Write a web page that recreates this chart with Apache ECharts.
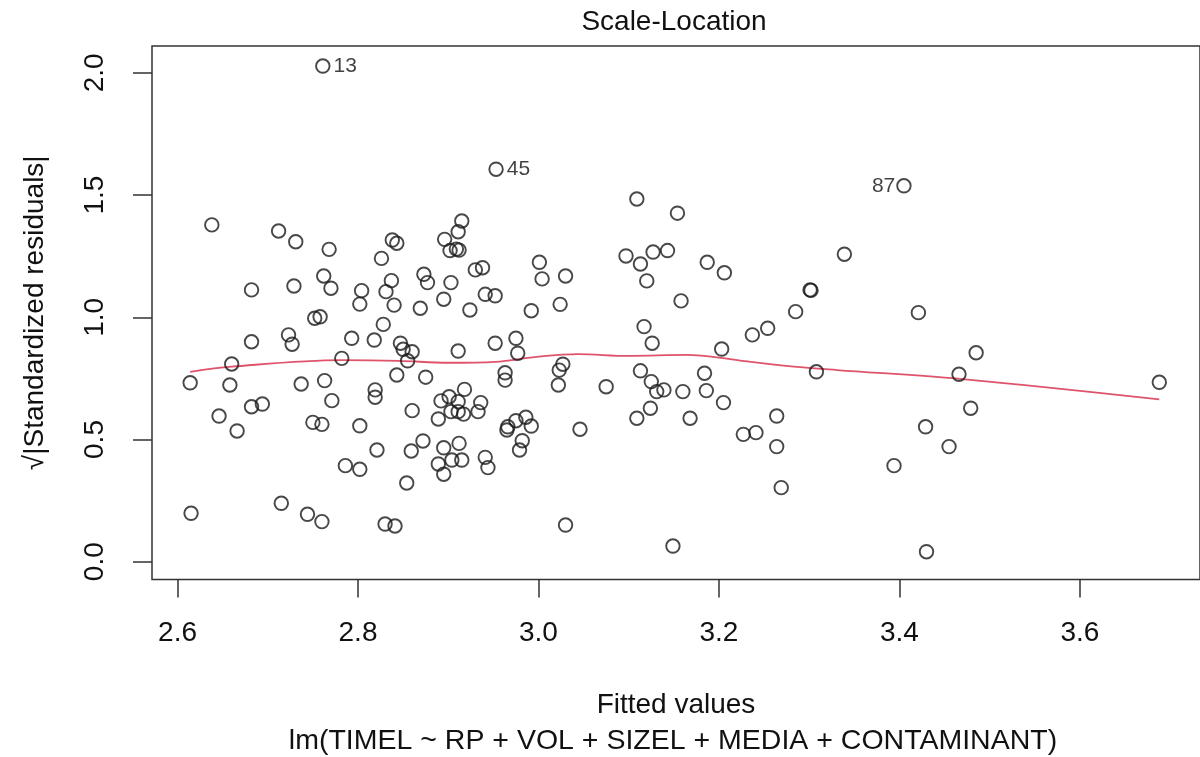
<!DOCTYPE html>
<html>
<head>
<meta charset="utf-8">
<script src="https://cdn.jsdelivr.net/npm/echarts@6/dist/echarts.min.js"></script>
<style>
html,body{margin:0;padding:0;background:#fff;}
#chart{width:1200px;height:757px;}
</style>
</head>
<body>
<div id="chart"></div>
<script>
const fitted = [2.761,2.953,3.405,2.638,2.712,2.731,2.768,2.838,2.843,2.826,2.915,2.911,2.896,2.902,2.909,2.912,2.930,2.938,2.682,2.729,
2.762,2.770,2.804,2.802,2.837,2.831,2.840,2.873,2.877,2.903,2.895,2.869,2.924,2.941,2.952,2.752,2.758,2.828,2.682,2.723,
2.727,2.793,2.818,2.847,2.850,2.860,2.855,2.952,2.911,2.660,2.782,2.614,2.658,2.737,2.763,2.843,2.875,2.963,2.963,2.646,
2.666,2.682,2.694,2.771,2.819,2.819,2.750,2.760,2.802,2.860,2.892,2.901,2.918,2.911,2.903,2.911,2.917,2.889,2.936,2.933,
2.821,2.859,2.872,2.895,2.912,2.889,2.895,2.904,2.915,2.786,2.802,2.854,2.941,2.944,2.615,2.715,2.744,2.760,2.830,2.841,
3.109,3.154,3.097,3.113,3.127,3.143,3.187,3.206,3.120,3.158,3.001,3.004,3.030,2.992,3.024,3.285,3.301,3.302,3.339,3.117,
3.126,3.237,3.254,3.203,2.975,2.977,3.027,3.023,3.022,3.075,3.113,3.125,3.131,3.139,3.160,3.184,3.186,3.205,3.308,2.966,
2.965,2.975,2.986,2.992,2.982,2.979,3.046,3.109,3.124,3.168,3.227,3.241,3.264,3.264,3.269,3.030,3.149,3.421,3.485,3.466,
3.688,3.479,3.429,3.455,3.394,3.430];
const sqrtStdRes = [2.028,1.606,1.538,1.378,1.353,1.309,1.278,1.316,1.303,1.241,1.394,1.350,1.319,1.273,1.279,1.275,1.194,1.203,1.112,1.128,
1.169,1.119,1.109,1.054,1.150,1.105,1.050,1.176,1.142,1.142,1.074,1.037,1.030,1.094,1.088,0.996,1.002,0.971,0.900,0.928,
0.890,0.914,0.907,0.894,0.869,0.859,0.822,0.894,0.862,0.809,0.832,0.732,0.723,0.727,0.741,0.764,0.755,0.773,0.743,0.596,
0.535,0.634,0.645,0.659,0.703,0.673,0.570,0.562,0.556,0.618,0.658,0.675,0.705,0.655,0.614,0.614,0.604,0.584,0.651,0.614,
0.457,0.453,0.494,0.466,0.484,0.400,0.358,0.416,0.416,0.393,0.378,0.322,0.427,0.385,0.198,0.239,0.194,0.164,0.154,0.146,
1.484,1.426,1.251,1.218,1.267,1.273,1.225,1.182,1.149,1.067,1.225,1.157,1.169,1.027,1.053,1.023,1.112,1.110,1.258,0.962,
0.894,0.928,0.955,0.870,0.914,0.853,0.808,0.784,0.723,0.716,0.781,0.737,0.696,0.703,0.696,0.771,0.700,0.651,0.777,0.552,
0.539,0.577,0.591,0.555,0.495,0.457,0.542,0.587,0.628,0.587,0.521,0.528,0.596,0.471,0.303,0.150,0.064,1.019,0.855,0.767,
0.734,0.628,0.552,0.471,0.393,0.041];
const idIndex = [0, 1, 2];
const idText = ['13', '45', '87'];
const loessX = [2.614,2.660,2.782,2.845,2.900,2.952,3.000,3.044,3.099,3.165,3.198,3.235,3.283,3.331,3.467,3.688];
const loessY = [0.777,0.798,0.825,0.822,0.814,0.818,0.839,0.849,0.842,0.846,0.836,0.818,0.798,0.784,0.748,0.664];
const xTicks = [2.6, 2.8, 3.0, 3.2, 3.4, 3.6];
const yTicks = [0.0, 0.5, 1.0, 1.5, 2.0];

const FONT = '"Liberation Sans", Arial, Helvetica, sans-serif';
const INK = '#111';
const idSide = ['right', 'right', 'left'];

const pts = fitted.map((x, i) => {
  const k = idIndex.indexOf(i);
  const item = { value: [x, sqrtStdRes[i]] };
  if (k >= 0) {
    item.label = {
      show: true, formatter: idText[k], position: idSide[k], distance: idSide[k] === 'left' ? 1 : 3,
      fontSize: 21, color: INK, fontFamily: FONT
    };
  }
  return item;
});

const chart = echarts.init(document.getElementById('chart'), null, { renderer: 'canvas' });
chart.setOption({
  animation: false,
  backgroundColor: '#fff',
  title: [
    { text: 'Scale-Location', left: 674, textAlign: 'center', top: 8, padding: 0,
      textStyle: { fontSize: 28, fontWeight: 'normal', color: INK, fontFamily: FONT } },
    { text: 'lm(TIMEL ~ RP + VOL + SIZEL + MEDIA + CONTAMINANT)', left: 673, textAlign: 'center', top: 727, padding: 0,
      textStyle: { fontSize: 28.5, fontWeight: 'normal', color: INK, fontFamily: FONT } }
  ],
  grid: { left: 152, top: 46, width: 1053, height: 533.5, show: true, borderColor: '#333', borderWidth: 1.5, backgroundColor: 'transparent' },
  xAxis: {
    type: 'value', min: 2.5717, max: 3.7331,
    name: 'Fitted values', nameLocation: 'middle', nameGap: 112,
    nameTextStyle: { fontSize: 28, color: INK, fontFamily: FONT },
    axisLine: { show: false, onZero: false },
    splitLine: { show: false },
    axisTick: { show: true, inside: false, length: 18, customValues: xTicks, lineStyle: { color: '#333', width: 1.5 } },
    axisLabel: { customValues: xTicks, margin: 40, fontSize: 28, color: INK, fontFamily: FONT,
      formatter: v => v.toFixed(1) }
  },
  yAxis: {
    type: 'value', min: -0.0728, max: 2.110,
    name: '√|Standardized residuals|', nameLocation: 'middle', nameGap: 103,
    nameTextStyle: { fontSize: 28, color: INK, fontFamily: FONT },
    axisLine: { show: false, onZero: false },
    splitLine: { show: false },
    axisTick: { show: true, inside: false, length: 19, customValues: yTicks, lineStyle: { color: '#333', width: 1.5 } },
    axisLabel: { customValues: yTicks, rotate: 90, margin: 43, fontSize: 28, color: INK, fontFamily: FONT,
      formatter: v => v.toFixed(1) }
  },
  series: [
    {
      type: 'scatter', symbol: 'circle', symbolSize: 13.5, data: pts,
      itemStyle: { color: 'rgba(0,0,0,0)', borderColor: '#1a1a1a', borderWidth: 1.9 },
      emphasis: { disabled: true }, z: 3
    },
    {
      type: 'line', data: loessX.map((x, i) => [x, loessY[i]]), smooth: 0.35, showSymbol: false, symbol: 'none',
      lineStyle: { color: '#DF536B', width: 1.8 }, z: 2, emphasis: { disabled: true }
    }
  ]
});
</script>
</body>
</html>
